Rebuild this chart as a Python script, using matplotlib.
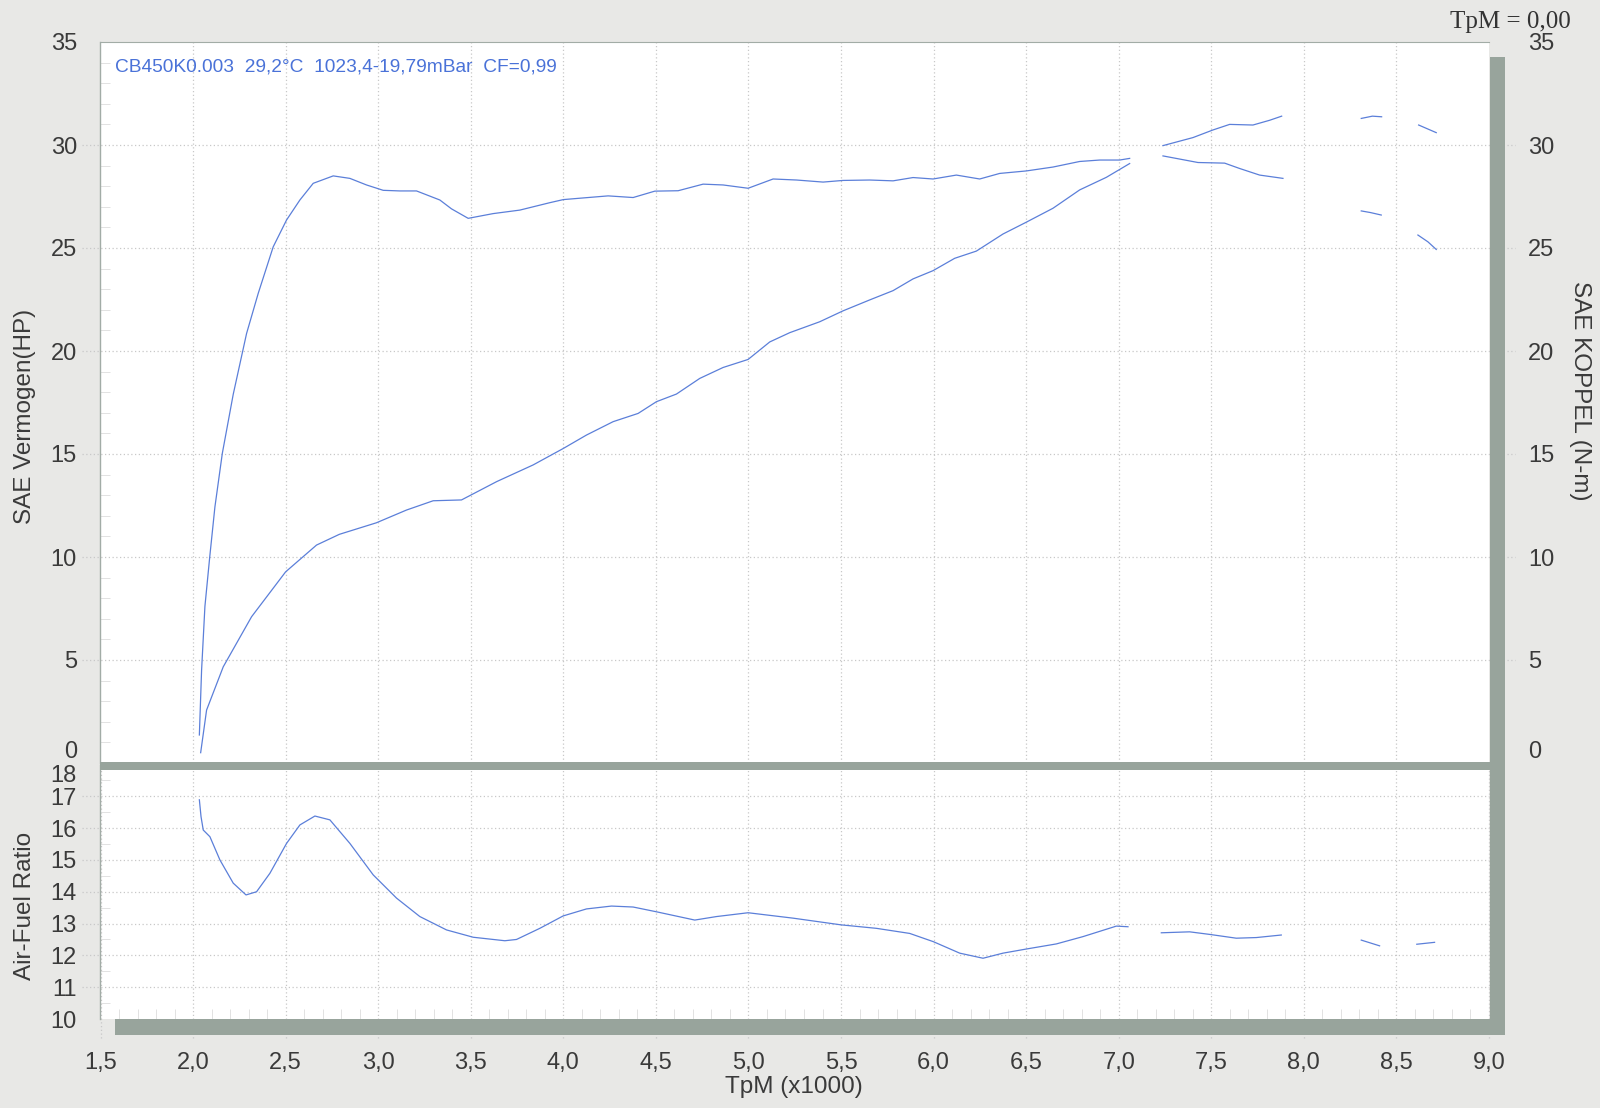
import numpy as np
import matplotlib
matplotlib.use("Agg")
import matplotlib.pyplot as plt
from matplotlib.patches import Rectangle
from matplotlib.ticker import MultipleLocator

plt.rcParams['font.family'] = ['Liberation Sans', 'DejaVu Sans']

nan = np.nan

# SAE Vermogen (HP) vs TpM (x1000); nan = gap in the recording
rpm_hp = [2.041, 2.073, 2.163, 2.316, 2.50, 2.667, 2.79, 2.99, 3.153, 3.297,
          3.45, 3.64, 3.837, 4.0, 4.125, 4.269, 4.404, 4.503, 4.611, 4.737,
          4.863, 4.998, 5.115, 5.223, 5.385, 5.511, 5.655, 5.781, 5.889, 5.997,
          6.114, 6.231, 6.375, 6.5, 6.645, 6.789, 6.933, 7.059, nan,
          7.239, 7.401, 7.509, 7.599, 7.725, 7.815, 7.88, nan,
          8.31, 8.37, 8.42, nan, 8.62, 8.715]
hp = [0.5, 2.57, 4.67, 7.1, 9.28, 10.58, 11.1, 11.66, 12.28, 12.73,
      12.77, 13.66, 14.47, 15.27, 15.92, 16.57, 16.97, 17.54, 17.91, 18.67,
      19.2, 19.59, 20.44, 20.89, 21.42, 21.95, 22.48, 22.93, 23.5, 23.9,
      24.5, 24.85, 25.68, 26.25, 26.93, 27.82, 28.43, 29.1, nan,
      29.97, 30.36, 30.73, 31.0, 30.97, 31.2, 31.4, nan,
      31.29, 31.4, 31.37, nan, 30.97, 30.6]

# SAE KOPPEL (N-m)
rpm_nm = [2.034, 2.046, 2.064, 2.09, 2.118, 2.158, 2.217, 2.289, 2.352, 2.433,
          2.505, 2.577, 2.649, 2.757, 2.847, 2.937, 3.027, 3.117, 3.207, 3.333,
          3.396, 3.486, 3.621, 3.765, 3.927, 4.0, 4.107, 4.242, 4.377, 4.494,
          4.62, 4.755, 4.863, 4.998, 5.133, 5.26, 5.403, 5.511, 5.655, 5.781,
          5.889, 5.997, 6.123, 6.249, 6.357, 6.5, 6.645, 6.789, 6.897, 7.005,
          7.059, nan,
          7.239, 7.428, 7.572, 7.653, 7.761, 7.887, nan,
          8.31, 8.36, 8.418, nan, 8.616, 8.67, 8.715]
nm = [1.36, 4.5, 7.6, 10.0, 12.43, 15.03, 17.9, 20.85, 22.8, 25.06,
      26.36, 27.33, 28.14, 28.5, 28.38, 28.06, 27.8, 27.77, 27.77, 27.33,
      26.9, 26.44, 26.67, 26.84, 27.2, 27.35, 27.43, 27.53, 27.45, 27.76,
      27.78, 28.1, 28.06, 27.9, 28.35, 28.3, 28.2, 28.28, 28.3, 28.26,
      28.42, 28.35, 28.54, 28.35, 28.62, 28.74, 28.93, 29.2, 29.27, 29.27,
      29.35, nan,
      29.47, 29.15, 29.12, 28.86, 28.54, 28.38, nan,
      26.8, 26.72, 26.6, nan, 25.63, 25.3, 24.93]

# Air-Fuel Ratio
rpm_afr = [2.034, 2.043, 2.055, 2.091, 2.145, 2.217, 2.286, 2.343, 2.415, 2.505,
           2.577, 2.658, 2.739, 2.847, 2.973, 3.099, 3.225, 3.369, 3.513, 3.684,
           3.747, 3.873, 3.999, 4.125, 4.26, 4.377, 4.503, 4.71, 4.827, 4.998,
           5.241, 5.499, 5.691, 5.871, 5.999, 6.141, 6.267, 6.375, 6.501, 6.663,
           6.807, 6.987, 7.05, nan,
           7.23, 7.383, 7.49, 7.635, 7.743, 7.878, nan,
           8.31, 8.409, nan, 8.61, 8.706]
afr = [16.89, 16.36, 15.94, 15.73, 15.0, 14.27, 13.9, 14.0, 14.58, 15.52,
       16.1, 16.38, 16.26, 15.52, 14.53, 13.8, 13.22, 12.8, 12.57, 12.46,
       12.5, 12.85, 13.24, 13.46, 13.55, 13.52, 13.37, 13.11, 13.22, 13.34,
       13.17, 12.96, 12.85, 12.69, 12.43, 12.07, 11.91, 12.07, 12.2, 12.36,
       12.59, 12.92, 12.9, nan,
       12.71, 12.74, 12.66, 12.54, 12.56, 12.64, nan,
       12.48, 12.3, nan, 12.35, 12.41]

x_ticks = [1.5, 2.0, 2.5, 3.0, 3.5, 4.0, 4.5, 5.0, 5.5, 6.0, 6.5, 7.0, 7.5, 8.0, 8.5, 9.0]
x_labels = ['1,5', '2,0', '2,5', '3,0', '3,5', '4,0', '4,5', '5,0', '5,5', '6,0',
            '6,5', '7,0', '7,5', '8,0', '8,5', '9,0']
top_ticks = [0, 5, 10, 15, 20, 25, 30, 35]
afr_ticks = [10, 11, 12, 13, 14, 15, 16, 17, 18]

info = 'CB450K0.003  29,2°C  1023,4-19,79mBar  CF=0,99'

bg = '#e8e8e6'
shade = '#98a49c'
line_c = '#5b7fd9'
txt_c = '#3a3a3a'
grid_c = '#c8c8c8'
minor_c = '#e2e2e2'
dots = (0, (1, 2))

fig = plt.figure(figsize=(16, 11.08), dpi=100, facecolor=bg)
W, H = 1600.0, 1108.0

ax = fig.add_axes([100.5 / W, 1 - 763 / H, 1388.5 / W, 721 / H])
afx = fig.add_axes([100.5 / W, 1 - 1019 / H, 1388.5 / W, 254.5 / H])

for a in (ax, afx):
    a.set_facecolor('white')
    a.set_xlim(1.5, 9.0)
    for s in ('right', 'bottom', 'top'):
        a.spines[s].set_visible(False)
    a.spines['left'].set_color('#a2aca6')
    a.spines['left'].set_linewidth(1.0)
ax.spines['top'].set_visible(True)
ax.spines['top'].set_color('#a2aca6')

# upper panel
ax.set_ylim(0, 35)
ax.set_yticks(top_ticks)
ax.set_xticks(x_ticks)
ax.tick_params(axis='x', length=0, labelbottom=False)
ax.tick_params(axis='y', length=0, pad=17, labelsize=17, labelcolor=txt_c)
ax.yaxis.set_minor_locator(MultipleLocator(1))
ax.tick_params(axis='y', which='minor', direction='in', length=7, width=0.7,
               color=minor_c, left=True, right=True)
for y in top_ticks[1:-1]:
    ax.axhline(y, xmin=-0.013, xmax=1.019, clip_on=False, ls=dots, lw=0.9, color=grid_c, zorder=0.5)
for x in x_ticks[1:-1]:
    ax.axvline(x, ls=dots, lw=0.9, color=grid_c, zorder=0.5)
ax.plot(rpm_hp, hp, color=line_c, lw=0.9, zorder=3)
ax.plot(rpm_nm, nm, color=line_c, lw=0.9, zorder=3)
ax.text(0.0104, 0.965, info, transform=ax.transAxes, fontsize=13.8,
        color='#4a72d8', va='center', ha='left')

ax2 = ax.twinx()
ax2.set_ylim(0, 35)
ax2.set_yticks(top_ticks)
ax2.tick_params(axis='y', length=0, pad=28, labelsize=17, labelcolor=txt_c)
for s in ax2.spines.values():
    s.set_visible(False)
ax.get_yticklabels()[0].set_va('bottom')
ax2.get_yticklabels()[0].set_va('bottom')

# lower panel
afx.set_ylim(10, 18)
afx.set_yticks(afr_ticks)
afx.set_xticks(x_ticks)
afx.set_xticklabels(x_labels)
afx.tick_params(axis='x', length=0, pad=24, labelsize=17, labelcolor=txt_c)
afx.tick_params(axis='y', length=0, pad=17, labelsize=17, labelcolor=txt_c)
afx.get_yticklabels()[-1].set_va('top')
afx.xaxis.set_minor_locator(MultipleLocator(0.1))
afx.yaxis.set_minor_locator(MultipleLocator(0.5))
afx.tick_params(which='minor', direction='in', length=7, width=0.7, color=minor_c)
for y in afr_ticks[1:-1]:
    afx.axhline(y, xmin=-0.013, xmax=1.0, clip_on=False, ls=dots, lw=0.9, color=grid_c, zorder=0.5)
for x in x_ticks:
    afx.axvline(x, ymin=-0.075, ymax=1.0, clip_on=False, ls=dots, lw=0.9, color=grid_c, zorder=0.5)
afx.plot(rpm_afr, afr, color=line_c, lw=0.9, zorder=3)

# shadow frame and separator band
for (x0, y0, x1, y1) in [(1490, 57, 1505, 1035), (115, 1019, 1505, 1035), (100, 762, 1505, 770)]:
    fig.add_artist(Rectangle((x0 / W, 1 - y1 / H), (x1 - x0) / W, (y1 - y0) / H,
                             transform=fig.transFigure, facecolor=shade,
                             edgecolor='none', zorder=5))

# labels
fig.text(25.5 / W, 1 - 416 / H, 'SAE Vermogen(HP)', rotation=90, ha='center', va='center',
         fontsize=17.5, color=txt_c)
fig.text(1580 / W, 1 - 391 / H, 'SAE KOPPEL (N-m)', rotation=270, ha='center', va='center',
         fontsize=17.5, color=txt_c)
fig.text(25.5 / W, 1 - 906 / H, 'Air-Fuel Ratio', rotation=90, ha='center', va='center',
         fontsize=17.5, color=txt_c)
fig.text(794 / W, 1 - 1087 / H, 'TpM (x1000)', ha='center', va='center',
         fontsize=17.5, color=txt_c)
fig.text(1450 / W, 1 - 22 / H, 'TpM = 0,00', ha='left', va='center',
         fontsize=18, color='#333333', family=['Liberation Serif', 'DejaVu Serif'])

fig.savefig('out.png', dpi=100, facecolor=bg)
